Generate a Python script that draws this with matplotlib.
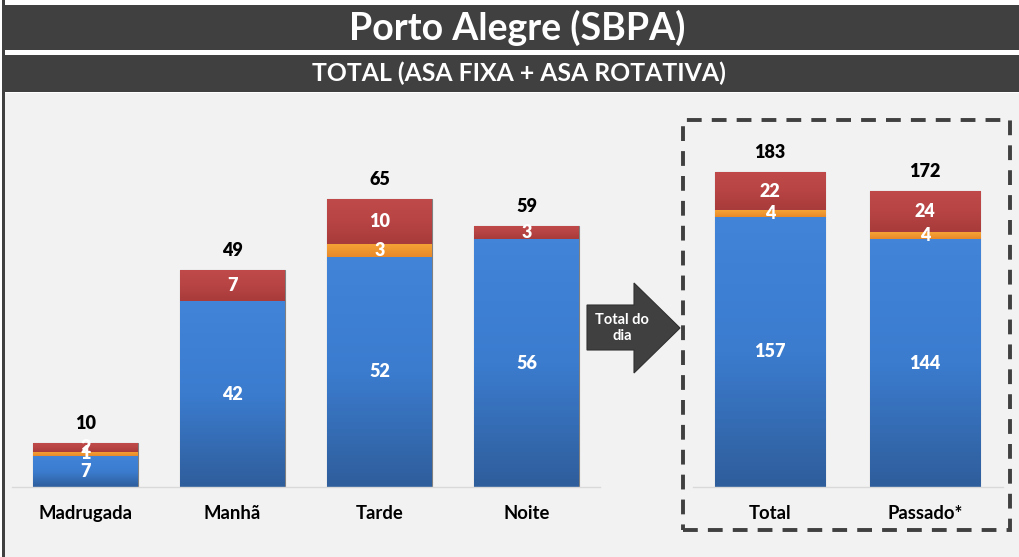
import matplotlib
matplotlib.use("Agg")
import matplotlib.pyplot as plt
import numpy as np
from matplotlib.patches import Rectangle, Polygon
from matplotlib.colors import LinearSegmentedColormap

plt.rcParams['font.family'] = ['Lato', 'DejaVu Sans']

# ---- data ----
periods = ["Madrugada", "Manhã", "Tarde", "Noite"]
p_blue = [7, 42, 52, 56]
p_orange = [1, 0, 3, 0]
p_red = [2, 7, 10, 3]

summary = ["Total", "Passado*"]
s_blue = [157, 144]
s_orange = [4, 4]
s_red = [22, 24]

title = "Porto Alegre (SBPA)"
subtitle = "TOTAL (ASA FIXA + ASA ROTATIVA)"
arrow_text = "Total do\ndia"

W, H = 1020, 557
fig = plt.figure(figsize=(W / 100, H / 100), dpi=100)
fig.patch.set_facecolor("white")

def fx(px):
    return px / W

def fy(py):  # py measured from top
    return 1 - py / H

DARK = "#404040"
BG = "#f2f2f2"
BLUE = "#3a78c6"
ORANGE = "#f39a2a"
RED = "#b54242"
blue_cmap = LinearSegmentedColormap.from_list("bl", ["#2f5e9c", "#3b7ccf", "#4184d8"])
red_cmap = LinearSegmentedColormap.from_list("rd", ["#a83b3b", "#b84444", "#c04a4a"])
orange_cmap = LinearSegmentedColormap.from_list("or", ["#e8892a", "#f6a436"])

# background panels
for r in [
    Rectangle((fx(5), 0), fx(1015), fy(93), facecolor=BG),
    Rectangle((fx(5), fy(50)), fx(1015), 45 / H, facecolor=DARK),
    Rectangle((fx(5), fy(92)), fx(1015), 37 / H, facecolor=DARK),
    Rectangle((fx(2), 0), fx(3), 1, facecolor=DARK),
]:
    r.set_transform(fig.transFigure)
    r.set_edgecolor("none")
    r.set_zorder(-5)
    fig.patches.append(r)

fig.text(fx(517), fy(28), title, color="white", fontsize=27, fontweight="bold",
         ha="center", va="center")
fig.text(fx(519), fy(73), subtitle, color="white", fontsize=17.8, fontweight="bold",
         ha="center", va="center")

grad = np.linspace(0, 1, 64).reshape(-1, 1)


def shade(ax, bars, cmap):
    for b in bars:
        h = b.get_height()
        if h <= 0:
            continue
        x0, y0 = b.get_x(), b.get_y()
        im = ax.imshow(grad, cmap=cmap, origin="lower", aspect="auto",
                       extent=[x0, x0 + b.get_width(), y0, y0 + h], zorder=2.1)
        im.set_clip_path(b)


def draw(ax, cats, blue, orange, red, width):
    x = list(range(len(cats)))
    edge = dict(edgecolor="#808080", linewidth=0.8)
    bb = ax.bar(x, blue, width, color=BLUE, **edge, zorder=2)
    bo = ax.bar(x, orange, width, bottom=blue, color=ORANGE, **edge, zorder=2)
    b3 = [b + o for b, o in zip(blue, orange)]
    br = ax.bar(x, red, width, bottom=b3, color=RED, **edge, zorder=2)
    shade(ax, bb, blue_cmap)
    shade(ax, bo, orange_cmap)
    shade(ax, br, red_cmap)
    for i in x:
        tot = blue[i] + orange[i] + red[i]
        kw = dict(color="white", fontsize=13, fontweight="heavy", ha="center",
                  va="center", zorder=3)
        ax.text(i, blue[i] / 2, str(blue[i]), **kw)
        if orange[i]:
            ax.text(i, blue[i] + orange[i] / 2, str(orange[i]), **kw)
        if red[i]:
            ax.text(i, b3[i] + red[i] / 2, str(red[i]), **kw)
        ax.annotate(str(tot), (i, tot), xytext=(0, 14), textcoords="offset points",
                    ha="center", va="center", fontsize=13, fontweight="heavy", color="black")
    ax.set_xlim(-0.5, len(cats) - 0.5)
    ax.set_ylim(bottom=0)
    ax.set_xticks(x)
    ax.set_xticklabels(cats, fontsize=13.3, fontweight="bold")
    ax.tick_params(axis="x", length=0, pad=13)
    ax.set_yticks([])
    for s in ["top", "right", "left"]:
        ax.spines[s].set_visible(False)
    ax.spines["bottom"].set_color("#d9d9d9")
    ax.spines["bottom"].set_linewidth(1)
    ax.patch.set_alpha(0)


# left axes
axL = fig.add_axes([fx(12), 70 / H, fx(588), 354 / H])
draw(axL, periods, p_blue, p_orange, p_red, 0.714)
axL.set_ylim(0, 80)

# right axes
axR = fig.add_axes([fx(692.5), 70 / H, fx(310), 344 / H])
draw(axR, summary, s_blue, s_orange, s_red, 0.716)
axR.set_ylim(0, 200)

# dashed box
box = Rectangle((fx(683), fy(530)), fx(327), 410 / H, transform=fig.transFigure,
                facecolor="none", edgecolor=DARK, linewidth=2.8,
                linestyle=(0, (3.8, 2.6)), zorder=1)
fig.patches.append(box)

# arrow
pts = [(587, 305), (634, 305), (634, 283), (680, 328), (634, 373), (634, 350), (587, 350)]
arrow = Polygon([(fx(a), fy(b)) for a, b in pts], closed=True,
                transform=fig.transFigure, facecolor=DARK, edgecolor="#303030",
                linewidth=0.8, zorder=3)
fig.patches.append(arrow)
fig.text(fx(622), fy(328), arrow_text, color="white", fontsize=10.5, fontweight="bold",
         ha="center", va="center", zorder=4, linespacing=1.15)

fig.savefig("out.png", dpi=100, facecolor=fig.get_facecolor())
